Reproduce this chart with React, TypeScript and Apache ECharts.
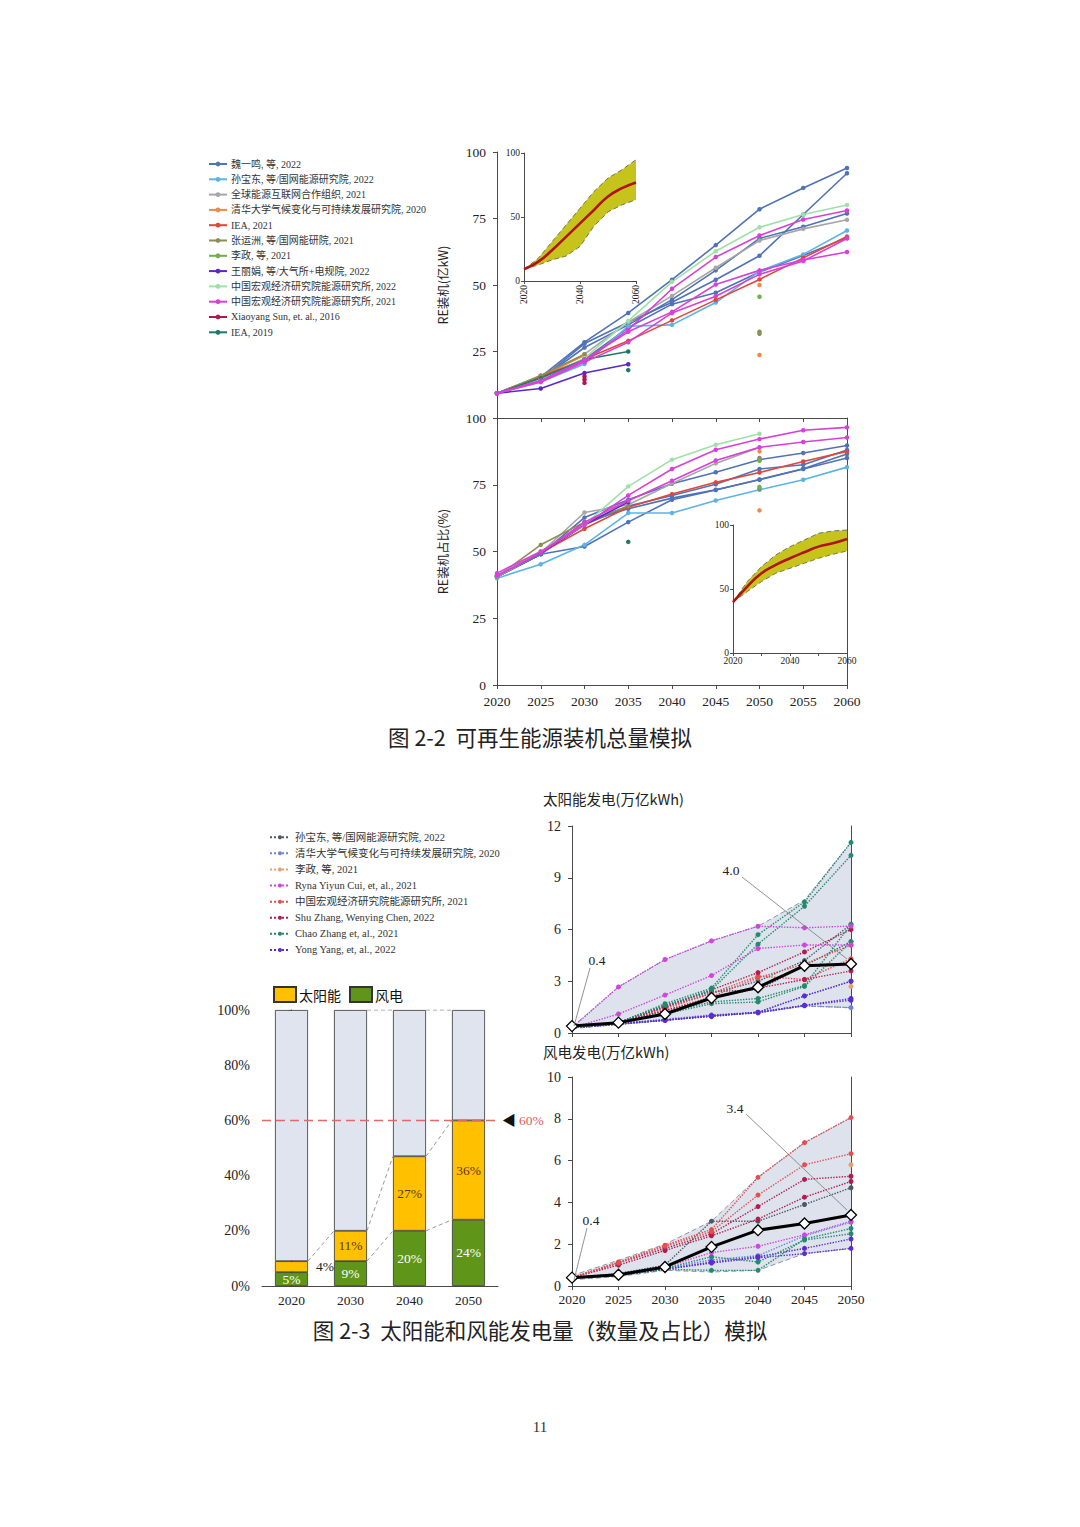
import React, { useEffect, useRef } from "react";
import * as echarts from "echarts";

const SERIF = "'Liberation Serif', 'Times New Roman', 'Noto Sans CJK SC', serif";
const CJK = "'Noto Sans CJK SC', 'Liberation Serif', sans-serif";
const AX = "#4a4a4a";
const TXT = "#222";

// ================= Figure 2-2 data =================
const YEARS_A = ["2020", "2025", "2030", "2035", "2040", "2045", "2050", "2055", "2060"];
const SOURCES_A = [
  "魏一鸣, 等, 2022",
  "孙宝东, 等/国网能源研究院, 2022",
  "全球能源互联网合作组织, 2021",
  "清华大学气候变化与可持续发展研究院, 2020",
  "IEA, 2021",
  "张运洲, 等/国网能研院, 2021",
  "李政, 等, 2021",
  "王丽娟, 等/大气所+电规院, 2022",
  "中国宏观经济研究院能源研究所, 2022",
  "中国宏观经济研究院能源研究所, 2021",
  "Xiaoyang Sun, et. al., 2016",
  "IEA, 2019",
];
const COLORS_A = ["#4f72b8", "#5ab4e5", "#a6a6a6", "#ee8a45", "#e2453a", "#8c8f55", "#72ad4e", "#5a27c8", "#9fe0a6", "#d93fd9", "#b3164d", "#1d7a6a"];

// RE installed capacity (亿kW)
const capWei1 = [9.3, 15.5, 28.5, 39.5, 52, 65, 78.5, 86.5, 94];
const capWei2 = [9.3, 14.5, 28, 36, 43.5, 52, 61, 76.5, 92];
const capWei3 = [9.3, 14.5, 26.5, 35, 44.5, 55.5, 67.5, 71.9, 76.9];
const capWei4 = [9.3, 14, 22, 34, 42.8, 47.1, 54.9, 61.1, 67.8];
const capSun = [9.3, 13.5, 20.3, 34.5, 35, 43.4, 55.2, 61.5, 70.5];
const capGei = [9.3, 15, 24, 36, 45.9, 56.5, 66.7, 71.1, 74.5];
const capTsinghua = [9.3, 15.8, 23.5, null, null, null, 50, null, null];
const capTsinghuaDot = [null, null, null, null, null, null, 23.7, null, null];
const capIea21 = [9.3, 15.5, 22.1, 29, 36.7, 44.4, 52.1, 60.2, 68.2];
const capZhang = [9.3, 16, 24, null, null, null, 32.4, null, null];
const capZhangDot = [null, null, null, null, null, null, 31.7, null, null];
const capLi = [null, null, null, null, null, null, 45.6, null, null];
const capWang = [9.3, 11.1, 16.9, 20.2, null, null, null, null, null];
const capMacro22 = [9.3, 14.5, 22.5, 36.5, 51.2, 62.7, 71.7, 76.5, 80.1];
const capMacro21a = [9.3, 14, 21.5, 33.1, 48.6, 60.5, 68.6, 74.6, 78];
const capMacro21b = [9.3, 14, 21.9, 32.4, 39.9, 50.2, 55.5, 59.4, 62.4];
const capMacro21c = [9.3, 13.5, 21, 28.5, 39.5, 45.8, 54, 59, 67.5];
const capXSun1 = [null, null, 15.6, null, null, null, null, null, null];
const capXSun2 = [null, null, 14.5, null, null, null, null, null, null];
const capXSun3 = [null, null, 13.2, null, null, null, null, null, null];
const capIea19 = [9.3, 15, 22, 25, null, null, null, null, null];
const capIea19Dot = [null, null, null, 18, null, null, null, null, null];

const CAP_LINES: [number, (number | null)[]][] = [
  [0, capWei1], [0, capWei2], [0, capWei3], [0, capWei4],
  [1, capSun], [2, capGei], [3, capTsinghua], [3, capTsinghuaDot],
  [4, capIea21], [5, capZhang], [5, capZhangDot], [6, capLi],
  [7, capWang], [8, capMacro22], [10, capXSun1], [10, capXSun2], [10, capXSun3],
  [11, capIea19], [11, capIea19Dot],
  [9, capMacro21a], [9, capMacro21b], [9, capMacro21c],
];

// RE share of installed capacity (%)
const shWei1 = [40.5, 49, 62.7, 69.4, 75.4, 79.7, 84.4, 86.9, 89.7];
const shWei2 = [40.5, 49, 60, 67, 71, 75.2, 80.9, 82.5, 88];
const shWei3 = [40.5, 49, 61, 66, 70, 73.1, 76.9, 80.9, 85];
const shWei4 = [40.5, 49, 51.9, 61, 69.4, 73, 77, 81, 86.5];
const shSun = [40, 45.2, 52.5, 64.4, 64.4, 69.1, 73.1, 76.9, 81.6];
const shGei = [40.5, 49.5, 64.6, 67.5, 75.5, 83, 89, null, null];
const shTsinghuaDot1 = [null, null, null, null, null, null, 65.4, null, null];
const shTsinghuaDot2 = [null, null, null, null, null, null, 87.5, null, null];
const shIea21 = [41, 49.5, 58.5, 66.6, 71.5, 75.9, 79.6, 83.7, 87.5];
const shZhang = [40.5, 52.5, 61, 67, null, null, 85, null, null];
const shZhangDot = [null, null, null, null, null, null, 73.5, null, null];
const shLiDot1 = [null, null, null, null, null, null, 84, null, null];
const shLiDot2 = [null, null, null, null, null, null, 74.2, null, null];
const shWang = [41, 49.5, 60, 68.5, null, null, null, null, null];
const shMacro22 = [41, 50, 60, 74.4, 84.4, 90, 94.1, null, null];
const shMacro21a = [41.9, 50, 60, 71, 80.9, 88.1, 92.1, 95.4, 96.5];
const shMacro21b = [41, 49.5, 61, 69, 76.5, 84.1, 89, 91, 92.7];
const shIea19Dot = [null, null, null, 53.6, null, null, null, null, null];

const SHARE_LINES: [number, (number | null)[]][] = [
  [0, shWei1], [0, shWei2], [0, shWei3], [0, shWei4],
  [1, shSun], [2, shGei], [3, shTsinghuaDot1], [3, shTsinghuaDot2],
  [4, shIea21], [5, shZhang], [5, shZhangDot], [6, shLiDot1], [6, shLiDot2],
  [7, shWang], [8, shMacro22], [11, shIea19Dot],
  [9, shMacro21a], [9, shMacro21b],
];

// inset bands
const capBandLow = [9.2, 12.5, 16.5, 19.5, 27, 43, 54, 59.5, 63.5];
const capBandMid = [9.2, 14.9, 24, 34.5, 45, 55.5, 66, 72.5, 77];
const capBandHigh = [9.2, 17.5, 30.6, 43.7, 56.8, 69.9, 80.4, 86.9, 94.8];
const shBandLow = [39.7, 48, 55.8, 62.3, 66.2, 70.1, 74, 77.1, 79.7];
const shBandMid = [39.7, 51.9, 62.3, 68.8, 74, 78.7, 83.1, 85.7, 89.1];
const shBandHigh = [39.7, 55.8, 67.5, 76.6, 83.1, 88.3, 93.5, 95.3, 96.1];

// ================= Figure 2-3 data =================
const BAR_YEARS = ["2020", "2030", "2040", "2050"];
const windShare = [5, 9, 20, 24];
const solarShare = [4, 11, 27, 36];

const YEARS_B = ["2020", "2025", "2030", "2035", "2040", "2045", "2050"];
const SOURCES_B = [
  "孙宝东, 等/国网能源研究院, 2022",
  "清华大学气候变化与可持续发展研究院, 2020",
  "李政, 等, 2021",
  "Ryna Yiyun Cui, et, al., 2021",
  "中国宏观经济研究院能源研究所, 2021",
  "Shu Zhang, Wenying Chen, 2022",
  "Chao Zhang et, al., 2021",
  "Yong Yang, et, al., 2022",
];
const COLORS_B = ["#4b5966", "#6f84d6", "#e8a06a", "#cf45e0", "#e2504e", "#b21c4f", "#228a6e", "#5b2bd6"];

// solar generation (万亿kWh)
const solarMax = [0.35, 2.67, 4.26, 5.34, 6.19, 7.7, 11.05];
const solarMin = [0.25, 0.5, 0.73, 1.0, 1.16, 1.57, 1.47];
const solarMedian = [0.4, 0.6, 1.1, 2.03, 2.65, 3.9, 4.0];
const sSun1 = [0.3, 0.6, 1.6, 2.4, 2.5, 3.9, 5.3];
const sSun2 = [0.3, 0.6, 1.5, 2.3, 3.0, 4.2, 6.3];
const sTsing1 = [0.3, 0.5, 0.73, 1.0, 1.16, 1.57, 1.47];
const sTsing2 = [0.3, 0.55, 0.8, 1.05, 1.2, 2.15, 3.0];
const sLi1 = [null, null, null, null, null, null, 2.7];
const sLi2 = [null, null, null, null, null, null, 4.3];
const sCui1 = [0.3, 2.67, 4.26, 5.34, 6.19, 6.1, 6.2];
const sCui2 = [0.3, 1.1, 2.2, 3.33, 4.9, 5.1, 5.1];
const sMacro1 = [0.3, 0.6, 1.4, 2.3, 3.3, 3.1, 4.3];
const sMacro2 = [0.3, 0.6, 1.3, 2.1, 3.2, 4.0, 5.1];
const sShu1 = [0.3, 0.6, 1.5, 2.5, 3.5, 4.7, 6.0];
const sShu2 = [0.3, 0.6, 1.3, 2.0, 2.6, 3.1, 3.6];
const sChao1 = [0.3, 0.6, 1.7, 2.6, 5.7, 7.6, 11.05];
const sChao2 = [0.3, 0.6, 1.6, 2.5, 5.15, 7.35, 10.3];
const sChao3 = [0.3, 0.6, 1.2, 1.8, 2.0, 2.75, 6.3];
const sChao4 = [0.3, 0.6, 1.1, 1.7, 1.8, 2.7, 5.3];
const sYang1 = [0.3, 0.55, 0.73, 1.0, 1.2, 2.15, 3.0];
const sYang2 = [0.3, 0.55, 0.75, 1.0, 1.2, 1.6, 2.0];
const sYang3 = [0.3, 0.5, 0.75, 0.95, 1.2, 1.6, 1.9];
const SOLAR_LINES: [number, (number | null)[]][] = [
  [1, sTsing1], [1, sTsing2], [7, sYang1], [7, sYang2], [7, sYang3],
  [0, sSun1], [0, sSun2], [2, sLi1], [2, sLi2],
  [4, sMacro1], [4, sMacro2], [5, sShu1], [5, sShu2],
  [6, sChao1], [6, sChao2], [6, sChao3], [6, sChao4],
  [3, sCui1], [3, sCui2],
];

// wind generation (万亿kWh)
const windMax = [0.5, 1.23, 2.0, 3.1, 5.2, 6.86, 8.06];
const windMin = [0.3, 0.45, 0.75, 0.67, 0.75, 1.55, 1.8];
const windMedian = [0.4, 0.54, 0.91, 1.87, 2.67, 2.99, 3.4];
const wMacro1 = [0.4, 1.15, 1.95, 2.7, 5.2, 6.86, 8.06];
const wMacro2 = [0.4, 1.1, 1.9, 2.6, 4.35, 5.8, 6.33];
const wShu1 = [0.4, 1.1, 1.8, 2.5, 3.8, 5.1, 5.25];
const wShu2 = [0.4, 1.0, 1.7, 2.4, 3.2, 4.25, 5.0];
const wSun = [0.4, 0.6, 1.0, 3.1, 3.1, 3.9, 4.7];
const wLi = [null, null, null, null, null, null, 5.8];
const wCui = [0.4, 0.5, 0.9, 1.6, 1.9, 2.45, 3.1];
const wChao1 = [0.4, 0.5, 0.8, 0.75, 0.75, 2.25, 2.75];
const wChao2 = [0.4, 0.5, 0.85, 1.4, 1.15, 2.2, 2.5];
const wYang1 = [0.4, 0.5, 0.8, 1.1, 1.35, 1.55, 1.8];
const wYang2 = [0.4, 0.5, 0.8, 1.15, 1.4, 1.8, 2.25];
const wTsing = [0.4, 0.5, 0.85, 1.25, 1.45, 2.4, 3.05];
const WIND_LINES: [number, (number | null)[]][] = [
  [1, wTsing], [7, wYang1], [7, wYang2], [6, wChao1], [6, wChao2], [3, wCui],
  [0, wSun], [2, wLi], [5, wShu1], [5, wShu2], [4, wMacro1], [4, wMacro2],
];

// ================= helpers =================
const clean = (d: (number | null)[]) => d.map((v) => (v == null ? "-" : v));

const lineS = (name: string, color: string, data: (number | null)[], xi: number, yi: number, dotted = false) => ({
  type: "line",
  name,
  xAxisIndex: xi,
  yAxisIndex: yi,
  data: clean(data),
  symbol: "circle",
  symbolSize: dotted ? 5 : 4.5,
  showSymbol: true,
  showAllSymbol: true,
  lineStyle: { color, width: dotted ? 1.4 : 1.6, type: dotted ? "dotted" : "solid" },
  itemStyle: { color },
  emphasis: { disabled: true },
  z: 3,
});

const bandS = (xi: number, yi: number, low: number[], high: number[], stack: string, fill: string, edge: string) => [
  { type: "line", xAxisIndex: xi, yAxisIndex: yi, data: low, stack, symbol: "none", lineStyle: { opacity: 0 }, silent: true, z: 1 },
  {
    type: "line", xAxisIndex: xi, yAxisIndex: yi, data: high.map((h, i) => +(h - low[i]).toFixed(3)), stack,
    symbol: "none", lineStyle: { opacity: 0 }, areaStyle: { color: fill, opacity: 1 }, silent: true, z: 1,
  },
  { type: "line", xAxisIndex: xi, yAxisIndex: yi, data: high, symbol: "none", lineStyle: { color: edge, width: 1, type: [5, 3] }, silent: true, z: 2 },
  { type: "line", xAxisIndex: xi, yAxisIndex: yi, data: low, symbol: "none", lineStyle: { color: edge, width: 1, type: [5, 3] }, silent: true, z: 2 },
];

const axLine = { show: true, lineStyle: { color: AX, width: 1 } };

const catAxis = (gridIndex: number, data: string[], label: any, tick: any = { show: true, length: 4, lineStyle: { color: AX } }) => ({
  type: "category",
  gridIndex,
  data,
  boundaryGap: false,
  axisLine: axLine,
  axisTick: tick,
  axisLabel: { color: TXT, fontFamily: SERIF, fontSize: 13.5, margin: 8, ...label },
  splitLine: { show: false },
});

const valAxis = (gridIndex: number, min: number, max: number, interval: number, label: any, extra: any = {}) => ({
  type: "value",
  gridIndex,
  min,
  max,
  interval,
  axisLine: axLine,
  axisTick: { show: true, length: 4, lineStyle: { color: AX } },
  axisLabel: { color: TXT, fontFamily: SERIF, fontSize: 13.5, margin: 11, ...label },
  splitLine: { show: false },
  ...extra,
});

const borderAxis = (gridIndex: number, min: number, max: number) => ({
  type: "value", gridIndex, min, max, position: "right",
  axisLine: axLine, axisTick: { show: false }, axisLabel: { show: false }, splitLine: { show: false },
});

// ================= Figure 2-2 option =================
function buildA(): any {
  const series: any[] = [];
  CAP_LINES.forEach(([s, d]) => series.push(lineS(SOURCES_A[s], COLORS_A[s], d, 0, 0)));
  SHARE_LINES.forEach(([s, d]) => series.push(lineS(SOURCES_A[s], COLORS_A[s], d, 2, 2)));
  series.push(...bandS(1, 1, capBandLow, capBandHigh, "capBand", "#c6c41c", "#6f7a55"));
  series.push({ type: "line", xAxisIndex: 1, yAxisIndex: 1, data: capBandMid, smooth: true, symbol: "none", lineStyle: { color: "#b0140e", width: 2.6 }, silent: true, z: 3 });
  series.push(...bandS(3, 4, shBandLow, shBandHigh, "shBand", "#c6c41c", "#6f7a55"));
  series.push({ type: "line", xAxisIndex: 3, yAxisIndex: 4, data: shBandMid, smooth: true, symbol: "none", lineStyle: { color: "#b0140e", width: 2.6 }, silent: true, z: 3 });

  const nameStyle = { fontFamily: CJK, fontSize: 12.5, color: TXT };
  return {
    animation: false,
    textStyle: { fontFamily: SERIF },
    grid: [
      { left: 497, top: 152, width: 350, height: 266, outerBoundsMode: "none" },
      { left: 524, top: 153, width: 112, height: 128, outerBoundsMode: "none" },
      { left: 497, top: 418, width: 350, height: 267, outerBoundsMode: "none" },
      { left: 733, top: 525, width: 114, height: 128, outerBoundsMode: "none" },
    ],
    xAxis: [
      catAxis(0, YEARS_A, { show: false }),
      catAxis(1, YEARS_A, { interval: 3, rotate: 90, fontSize: 9.5, margin: 4 }, { show: true, interval: 3, length: 3, lineStyle: { color: AX } }),
      catAxis(2, YEARS_A, { fontSize: 13.5, margin: 10 }),
      catAxis(3, YEARS_A, { interval: 3, fontSize: 9.5, margin: 3 }, { show: true, interval: 1, length: 3, lineStyle: { color: AX } }),
    ],
    yAxis: [
      valAxis(0, 0, 100, 25, { formatter: (v: number) => (v === 0 ? "" : String(v)) }, {
        name: "RE装机(亿kW)", nameLocation: "middle", nameGap: 48, nameRotate: 90, nameTextStyle: nameStyle,
      }),
      valAxis(1, 0, 100, 50, { fontSize: 9.5, margin: 4 }, { axisTick: { show: true, length: 3, lineStyle: { color: AX } } }),
      valAxis(2, 0, 100, 25, {}, {
        name: "RE装机占比(%)", nameLocation: "middle", nameGap: 48, nameRotate: 90, nameTextStyle: nameStyle,
      }),
      borderAxis(2, 0, 100),
      valAxis(3, 0, 100, 50, { fontSize: 9.5, margin: 4 }, { axisTick: { show: true, length: 3, lineStyle: { color: AX } } }),
    ],
    legend: [
      {
        data: SOURCES_A, orient: "vertical", left: 203, top: 154, itemGap: 5.3, itemWidth: 18, itemHeight: 6,
        selectedMode: false, textStyle: { fontSize: 10, color: "#333", fontFamily: SERIF, padding: [0, 0, 0, -1] },
      },
    ],
    graphic: [
      { type: "text", left: "center", top: 726, z: 100, style: { text: "图 2-2  可再生能源装机总量模拟", fontSize: 21.5, fill: "#222", fontFamily: CJK } },
    ],
    series,
  };
}

// ================= Figure 2-3 option =================
function buildB(): any {
  const series: any[] = [];
  const restShare = windShare.map((w, i) => 100 - w - solarShare[i]);
  const barBorder = { borderColor: "#333", borderWidth: 0.8 };
  series.push({
    type: "bar", name: "风电", xAxisIndex: 0, yAxisIndex: 0, stack: "share", barWidth: 33, data: windShare,
    itemStyle: { color: "#5f9619", ...barBorder }, emphasis: { disabled: true },
    label: { show: true, position: "inside", formatter: "{c}%", color: "#fff", fontSize: 13.5, fontFamily: SERIF },
  });
  series.push({
    type: "bar", name: "太阳能", xAxisIndex: 0, yAxisIndex: 0, stack: "share", barWidth: 33,
    data: solarShare.map((v, i) => (i === 0 ? { value: v, label: { position: "right", color: "#222", distance: 8 } } : v)),
    itemStyle: { color: "#ffc000", ...barBorder }, emphasis: { disabled: true },
    label: { show: true, position: "inside", formatter: "{c}%", color: "#5c3b0a", fontSize: 13.5, fontFamily: SERIF },
  });
  series.push({
    type: "bar", name: "其他", xAxisIndex: 0, yAxisIndex: 0, stack: "share", barWidth: 33, data: restShare,
    itemStyle: { color: "#dfe4ee", ...barBorder }, emphasis: { disabled: true },
    markLine: {
      silent: true, symbol: ["none", "none"], data: [{ yAxis: 60 }],
      lineStyle: { color: "#e06a6a", type: [9, 5], width: 1.3 },
      label: {
        show: true, position: "end", distance: 4, formatter: "{a|◀} {b|60%}",
        rich: { a: { color: "#111", fontSize: 14 }, b: { color: "#e05a5a", fontSize: 13.5, fontFamily: SERIF } },
      },
    },
  });
  // dashed connectors between bars
  const hw = 33 / 2 / (236 / BAR_YEARS.length);
  const solarTop = windShare.map((w, i) => w + solarShare[i]);
  const segs: [number, number[]][] = [];
  [0, 1, 2].forEach((i) => segs.push([i, [solarTop[i], solarTop[i + 1]]]));
  [1, 2].forEach((i) => segs.push([i, [windShare[i], windShare[i + 1]]]));
  [1, 2].forEach((i) => segs.push([i, [100, 100]]));
  segs.forEach(([i, [a, b]]) =>
    series.push({
      type: "line", xAxisIndex: 1, yAxisIndex: 0, data: [[i + hw, a], [i + 1 - hw, b]], symbol: "none", silent: true,
      lineStyle: { color: "#8a8a9a", width: 0.9, type: [4, 3] }, z: 4,
    })
  );

  // solar
  series.push(...bandS(2, 1, solarMin, solarMax, "sBand", "#dde2ec", "#8f93ad"));
  SOLAR_LINES.forEach(([s, d]) => series.push(lineS(SOURCES_B[s], COLORS_B[s], d, 2, 1, true)));
  series.push({
    type: "line", xAxisIndex: 2, yAxisIndex: 1, data: solarMedian, symbol: "diamond", symbolSize: 11,
    lineStyle: { color: "#000", width: 3 }, itemStyle: { color: "#fff", borderColor: "#000", borderWidth: 1.3 }, z: 6, silent: true,
  });
  // wind
  series.push(...bandS(3, 3, windMin, windMax, "wBand", "#dde2ec", "#8f93ad"));
  WIND_LINES.forEach(([s, d]) => series.push(lineS(SOURCES_B[s], COLORS_B[s], d, 3, 3, true)));
  series.push({
    type: "line", xAxisIndex: 3, yAxisIndex: 3, data: windMedian, symbol: "diamond", symbolSize: 11,
    lineStyle: { color: "#000", width: 3 }, itemStyle: { color: "#fff", borderColor: "#000", borderWidth: 1.3 }, z: 6, silent: true,
  });

  const ann = (text: string, tx: number, ty: number, x1: number, y1: number, x2: number, y2: number) => [
    { type: "line", z: 100, shape: { x1, y1, x2, y2 }, style: { stroke: "#777", lineWidth: 0.8 } },
    { type: "text", z: 100, x: tx, y: ty, style: { text, fontSize: 13.5, fill: "#222", fontFamily: SERIF, align: "center", verticalAlign: "middle" } },
  ];

  return {
    animation: false,
    textStyle: { fontFamily: SERIF },
    grid: [
      { left: 262, top: 1010, width: 236, height: 276, outerBoundsMode: "none" },
      { left: 572, top: 826, width: 279, height: 207, outerBoundsMode: "none" },
      { left: 572, top: 1077, width: 279, height: 209, outerBoundsMode: "none" },
    ],
    xAxis: [
      { ...catAxis(0, BAR_YEARS, { fontSize: 13.5, margin: 8 }, { show: false }), boundaryGap: true },
      { type: "value", gridIndex: 0, min: -0.5, max: 3.5, show: false },
      catAxis(1, YEARS_B, { show: false }),
      catAxis(2, YEARS_B, { fontSize: 13.5, margin: 7 }),
    ],
    yAxis: [
      valAxis(0, 0, 100, 20, { formatter: "{value}%", fontSize: 14, margin: 12 }, { axisTick: { show: true, length: 3, lineStyle: { color: AX } } }),
      valAxis(1, 0, 12, 3, { fontSize: 14, margin: 11 }),
      borderAxis(1, 0, 12),
      valAxis(2, 0, 10, 2, { fontSize: 14, margin: 11 }),
      borderAxis(2, 0, 10),
    ],
    legend: [
      {
        data: SOURCES_B, orient: "vertical", left: 264, top: 827, itemGap: 5.6, itemWidth: 20, itemHeight: 5,
        selectedMode: false, textStyle: { fontSize: 10.5, color: "#333", fontFamily: SERIF },
      },
      {
        data: ["太阳能", "风电"], orient: "horizontal", left: 268, top: 981, itemGap: 8, itemWidth: 22, itemHeight: 15,
        icon: "rect", selectedMode: false, textStyle: { fontSize: 14, color: "#111", fontFamily: CJK, padding: [0, 0, 0, -2] },
      },
    ],
    graphic: [
      { type: "text", z: 100, x: 543, y: 798, style: { text: "太阳能发电(万亿kWh)", fontSize: 14.5, fill: "#222", fontFamily: CJK, verticalAlign: "middle" } },
      { type: "text", z: 100, x: 543, y: 1051, style: { text: "风电发电(万亿kWh)", fontSize: 14.5, fill: "#222", fontFamily: CJK, verticalAlign: "middle" } },
      ...ann("0.4", 597, 960, 590, 968, 574, 1026),
      ...ann("4.0", 731, 870, 742, 877, 847, 959),
      ...ann("0.4", 591, 1220, 587, 1228, 574, 1280),
      ...ann("3.4", 735, 1108, 746, 1114, 847, 1210),
      { type: "text", left: "center", top: 1319, z: 100, style: { text: "图 2-3  太阳能和风能发电量（数量及占比）模拟", fontSize: 21.5, fill: "#222", fontFamily: CJK } },
      { type: "text", left: "center", top: 1419, z: 100, style: { text: "11", fontSize: 15, fill: "#333", fontFamily: SERIF } },
    ],
    series,
  };
}

export default function App() {
  const refA = useRef<HTMLDivElement>(null);
  const refB = useRef<HTMLDivElement>(null);
  useEffect(() => {
    const a = echarts.init(refA.current as HTMLDivElement, null, { renderer: "svg" });
    a.setOption(buildA());
    const b = echarts.init(refB.current as HTMLDivElement, null, { renderer: "svg" });
    b.setOption(buildB());
    return () => {
      a.dispose();
      b.dispose();
    };
  }, []);
  const full: React.CSSProperties = { position: "absolute", left: 0, top: 0, width: 1080, height: 1527 };
  return (
    <div style={{ ...full, background: "#fff" }}>
      <div ref={refA} style={full} />
      <div ref={refB} style={full} />
    </div>
  );
}
